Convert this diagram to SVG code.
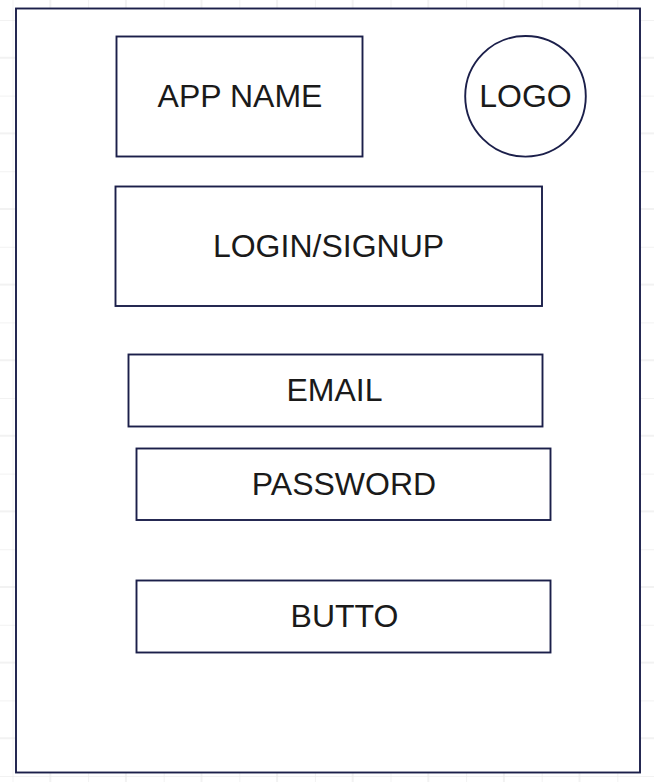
<svg xmlns="http://www.w3.org/2000/svg" width="654" height="782" viewBox="0 0 654 782">
<defs>
<pattern id="grid" x="12.5" y="20" width="75.6" height="75.6" patternUnits="userSpaceOnUse">
<path d="M0 0V75.6M37.8 0V75.6M0 0H75.6M0 37.8H75.6" fill="none" stroke="#e6e6e6" stroke-width="1"/>
</pattern>
</defs>
<style>
.box{fill:#ffffff;stroke:#1b1f4a;stroke-width:1.9}
.lbl{font-family:"Liberation Sans",Arial,sans-serif;font-size:32px;fill:#1a1a1a;text-anchor:middle}
</style>
<rect width="654" height="782" fill="#ffffff"/>
<rect width="654" height="782" fill="url(#grid)"/>
<g id="frame"><rect class="box" x="16" y="8.5" width="624" height="764"/></g>
<g id="app-name"><rect class="box" x="116.5" y="36.5" width="246" height="120"/><text class="lbl" x="240" y="106.5">APP NAME</text></g>
<g id="logo"><circle class="box" cx="525.5" cy="96.3" r="60.3"/><text class="lbl" x="525.5" y="106.5">LOGO</text></g>
<g id="login-signup"><rect class="box" x="115.5" y="186.5" width="426.5" height="119.5"/><text class="lbl" x="328.5" y="256.5">LOGIN/SIGNUP</text></g>
<g id="email"><rect class="box" x="128.5" y="354.5" width="414" height="72"/><text class="lbl" x="334.5" y="400.5">EMAIL</text></g>
<g id="password"><rect class="box" x="136.5" y="448.5" width="414" height="71.5"/><text class="lbl" x="344" y="494.5">PASSWORD</text></g>
<g id="button"><rect class="box" x="136.5" y="580.5" width="414" height="72"/><text class="lbl" x="344.5" y="626.5">BUTTO</text></g>
<g id="connectors"></g>
</svg>
